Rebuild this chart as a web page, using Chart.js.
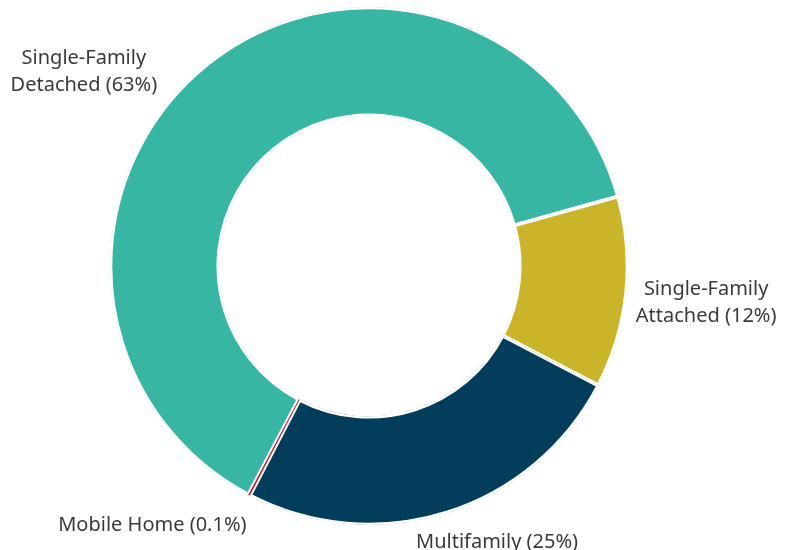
<!DOCTYPE html>
<html lang="en">
<head>
  <meta charset="UTF-8">
  <title>Housing Stock by Type</title>
  <script src="https://cdn.jsdelivr.net/npm/chart.js"></script>
  <style>
    html, body { margin: 0; padding: 0; background: #fff; }
    #chart { display: block; }
  </style>
</head>
<body>
  <canvas id="chart" width="791" height="550"></canvas>

  <script>
    const categories = ['Single-Family Detached', 'Single-Family Attached', 'Multifamily', 'Mobile Home'];
    const shares = [63, 12, 25, 0.1];
    const labelLines = [
      ['Single-Family', 'Detached (63%)'],
      ['Single-Family', 'Attached (12%)'],
      ['Multifamily (25%)'],
      ['Mobile Home (0.1%)']
    ];
    const colors = ['#38b6a4', '#cab42a', '#033d5c', '#c8102e'];

    // where each text block sits around the ring: angle clockwise from 12 o'clock, gap past the outer edge
    const labelSpots = [
      { angle: 304.5, gap: 87 },
      { angle: 96, gap: 80 },
      { angle: 155, gap: 44 },
      { angle: 220, gap: 78 }
    ];

    const outsideLabels = {
      id: 'outsideLabels',
      afterDraw(chart) {
        const ctx = chart.ctx;
        const arcs = chart.getDatasetMeta(0).data;
        const size = 20;
        const lh = 27;
        ctx.save();
        ctx.font = size + 'px "Noto Sans", sans-serif';
        ctx.fillStyle = '#3a3a3a';
        ctx.textAlign = 'center';
        ctx.textBaseline = 'alphabetic';
        arcs.forEach((arc, i) => {
          const spot = labelSpots[i];
          const a = spot.angle * Math.PI / 180;
          const r = arc.outerRadius + spot.gap;
          const cx = arc.x + r * Math.sin(a);
          const cy = arc.y - r * Math.cos(a);
          const lines = labelLines[i];
          lines.forEach((t, j) => {
            // cy is the middle of the capitals, so drop to the baseline
            const y = cy + (j - (lines.length - 1) / 2) * lh + size * 0.36;
            ctx.fillText(t, cx, y);
          });
        });
        ctx.restore();
      }
    };

    new Chart(document.getElementById('chart').getContext('2d'), {
      type: 'doughnut',
      data: {
        labels: categories,
        datasets: [{
          data: shares,
          backgroundColor: colors,
          borderColor: '#ffffff',
          // the tiny mobile home slice keeps no border so the red sliver still shows
          borderWidth: [2, 2, 2, 0],
          borderAlign: 'inner'
        }]
      },
      options: {
        responsive: false,
        devicePixelRatio: 1,
        animation: false,
        cutout: '58%',
        rotation: -152.2,
        layout: { padding: { top: 7, bottom: 25, left: 0, right: 53 } },
        plugins: {
          legend: { display: false },
          tooltip: { enabled: false }
        }
      },
      plugins: [outsideLabels]
    });
  </script>
</body>
</html>
